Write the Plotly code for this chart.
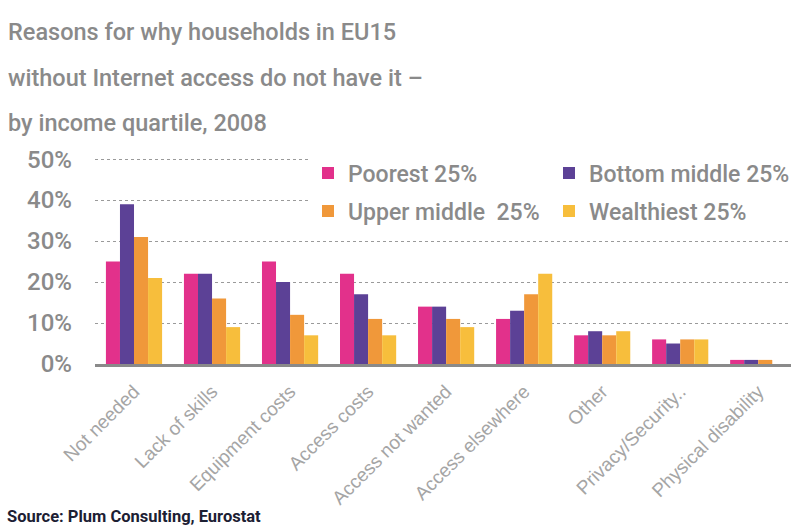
import plotly.graph_objects as go

# Reasons for lacking home Internet access, EU15 households, by income quartile (2008)
categories = [
    "Not needed", "Lack of skills", "Equipment costs", "Access costs",
    "Access not wanted", "Access elsewhere", "Other", "Privacy/Security..",
    "Physical disability",
]
poorest = [25, 22, 25, 22, 14, 11, 7, 6, 1]
bottom_middle = [39, 22, 20, 17, 14, 13, 8, 5, 1]
upper_middle = [31, 16, 12, 11, 11, 17, 7, 6, 1]
wealthiest = [21, 9, 7, 7, 9, 22, 8, 6, 0]

series_names = ["Poorest 25%", "Bottom middle 25%", "Upper middle  25%", "Wealthiest 25%"]
series_values = [poorest, bottom_middle, upper_middle, wealthiest]
series_colors = ["#E2318B", "#5C4196", "#F0983A", "#F7BE3C"]
# the legend is laid out in two rows of two entries each
series_legend = ["legend", "legend", "legend2", "legend2"]

y_tickvals = [0, 10, 20, 30, 40, 50]
y_ticktext = ["0%", "10%", "20%", "30%", "40%", "50%"]

title_lines = [
    "Reasons for why households in EU15",
    "without Internet access do not have it –",
    "by income quartile, 2008",
]
source_text = "Source: Plum Consulting, Eurostat"

FONT = "Roboto, Liberation Sans, Arial, sans-serif"
GREY = "#8A8A8A"

# plot-area geometry in pixels (y range tops out at 51%, 4.1 px per percent)
W, H = 791, 526
ML, MR, MT, MB = 95, 0, 155, 162
PW, PH = W - ML - MR, H - MT - MB


def px_x(x):
    return (x - ML) / PW


def px_y(y):
    return (H - MB - y) / PH


fig = go.Figure()
for name, vals, col, leg in zip(series_names, series_values, series_colors, series_legend):
    fig.add_trace(go.Bar(
        x=categories, y=vals, name=name, legend=leg,
        marker=dict(color=col, line=dict(width=0)),
        hoverinfo="x+y+name",
    ))

annotations = []
for i, line in enumerate(title_lines):
    annotations.append(dict(
        text=line, xref="paper", yref="paper", x=px_x(6), y=px_y(48 + 45.5 * i),
        xanchor="left", yanchor="bottom", showarrow=False,
        font=dict(family=FONT, size=23.5, color=GREY, weight=500),
    ))
annotations.append(dict(
    text="<b>" + source_text + "</b>", xref="paper", yref="paper",
    x=px_x(5), y=px_y(516), xanchor="left", yanchor="middle", showarrow=False,
    font=dict(family=FONT, size=16.5, color="#1C2033"),
))

legend_common = dict(
    orientation="h", xanchor="left", yanchor="middle",
    bgcolor="white", borderwidth=0,
    entrywidth=196, entrywidthmode="pixels",
    font=dict(family=FONT, size=23, color=GREY, weight=500),
    traceorder="normal",
)

fig.update_layout(
    width=W, height=H,
    margin=dict(l=ML, r=MR, t=MT, b=MB),
    paper_bgcolor="white", plot_bgcolor="white",
    barmode="group", bargap=0.28, bargroupgap=0,
    showlegend=True,
    legend=dict(legend_common, x=px_x(308), y=px_y(173)),
    legend2=dict(legend_common, x=px_x(308), y=px_y(211)),
    xaxis=dict(
        type="category", range=[-0.5, 8.42],
        showgrid=False, showline=True, linecolor="#8A8A8A", linewidth=3,
        ticks="", tickangle=-45, ticklabelstandoff=6,
        tickfont=dict(family="Liberation Sans, Arial, sans-serif", size=19, color="#A5A5A5"),
    ),
    yaxis=dict(
        range=[0, 51], tickvals=y_tickvals, ticktext=y_ticktext,
        showgrid=True, gridcolor="#9A9A9A", gridwidth=1, griddash="dot",
        zeroline=False, showline=False, ticks="", ticklabelstandoff=22,
        tickfont=dict(family=FONT, size=24, color=GREY, weight=500),
    ),
    annotations=annotations,
)

fig.write_html("out.html")
